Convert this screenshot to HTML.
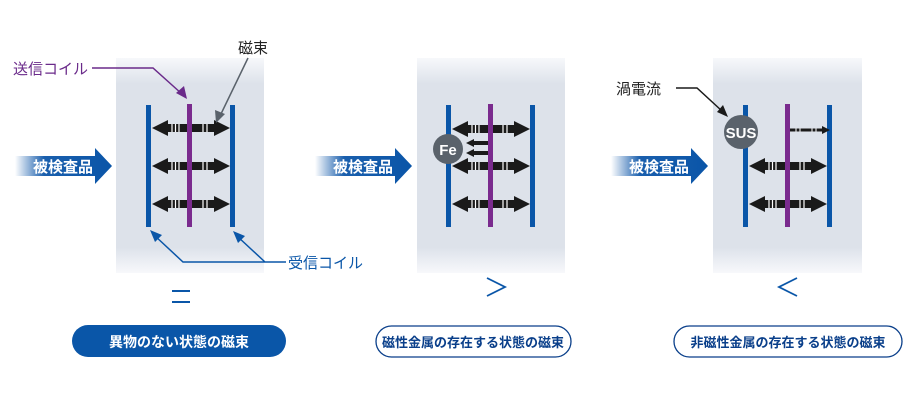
<!DOCTYPE html>
<html><head><meta charset="utf-8"><style>
body{margin:0;background:#fff;}
svg text{font-family:"Liberation Sans","Noto Sans CJK JP",sans-serif;}
</style></head><body>
<svg width="920" height="400" viewBox="0 0 920 400" xmlns="http://www.w3.org/2000/svg">
<defs>
<linearGradient id="pg" x1="0" y1="0" x2="0" y2="1">
<stop offset="0" stop-color="#f7f8fb"/><stop offset="0.12" stop-color="#dde2ea"/><stop offset="0.88" stop-color="#dde2ea"/><stop offset="1" stop-color="#f7f8fb"/>
</linearGradient>
<linearGradient id="fg" x1="0" y1="0" x2="1" y2="0">
<stop offset="0" stop-color="#1a5fad" stop-opacity="0"/><stop offset="0.3" stop-color="#1a5fad"/><stop offset="1" stop-color="#0a55a8"/>
</linearGradient>
<g id="feed">
<path d="M0,156 H80 V148 L97,166 L80,184 V176 H0 Z" fill="url(#fg)"/>
<text x="18" y="172" font-size="15" font-weight="bold" fill="#fff">被検査品</text>
</g>
<g id="darr">
<path d="M0,0 L16,-8 V-4 H62 V-8 L78,0 L62,8 V4 H16 V8 Z" fill="#1a1a1a"/>
<path d="M20,-4 v8 M23.5,-4 v8 M27,-4 v8 M51,-4 v8 M55,-4 v8" stroke="#fff" stroke-width="1.2"/>
</g>
</defs>

<rect x="116" y="58" width="148" height="215" fill="url(#pg)"/>
<rect x="417" y="58" width="148" height="215" fill="url(#pg)"/>
<rect x="713" y="58" width="149" height="215" fill="url(#pg)"/>

<use href="#feed" x="15"/>
<use href="#feed" x="315"/>
<use href="#feed" x="611"/>

<!-- panel 1 -->
<rect x="146" y="105" width="5" height="122" fill="#0a56a8"/>
<rect x="230" y="105" width="5" height="122" fill="#0a56a8"/>
<use href="#darr" x="152" y="128"/>
<use href="#darr" x="152" y="166"/>
<use href="#darr" x="152" y="204"/>
<rect x="187" y="104" width="5" height="123" fill="#7a2b8e"/>

<!-- panel 2 -->
<rect x="446" y="105" width="5" height="122" fill="#0a56a8"/>
<rect x="530" y="105" width="5" height="122" fill="#0a56a8"/>
<use href="#darr" x="452" y="129"/>
<use href="#darr" x="452" y="166"/>
<use href="#darr" x="452" y="204"/>
<path d="M466,143 L474,139 V141 H489 V145 H474 V147 Z M466,153 L474,149 V151 H489 V155 H474 V157 Z" fill="#1a1a1a"/>
<rect x="488" y="104" width="5" height="123" fill="#7a2b8e"/>
<circle cx="448" cy="149" r="15" fill="#5a626b"/>
<text x="448" y="155" font-size="15" font-weight="bold" fill="#fff" text-anchor="middle">Fe</text>

<!-- panel 3 -->
<rect x="743" y="105" width="5" height="122" fill="#0a56a8"/>
<rect x="827" y="105" width="5" height="122" fill="#0a56a8"/>
<use href="#darr" x="749" y="166"/>
<use href="#darr" x="749" y="204"/>
<path d="M790,128.5 H822 V126 L830,130 L822,134 V131.5 H790 Z" fill="#1a1a1a"/>
<path d="M796,128.5 v3 M800,128.5 v3 M812,128.5 v3 M816,128.5 v3" stroke="#fff" stroke-width="1"/>
<rect x="785" y="104" width="5" height="123" fill="#7a2b8e"/>
<circle cx="741" cy="132" r="17" fill="#5a626b"/>
<text x="741" y="138" font-size="15" font-weight="bold" fill="#fff" text-anchor="middle">SUS</text>

<!-- labels -->
<text x="13" y="74" font-size="15" fill="#6a2a8a">送信コイル</text>
<path d="M92,68 H153 L182,94" stroke="#6a2a8a" stroke-width="1.5" fill="none"/>
<path d="M187,99 L176,93 L184,86 Z" fill="#6a2a8a"/>
<text x="238" y="53" font-size="15" fill="#222">磁束</text>
<path d="M248,58 L220,116" stroke="#5a626b" stroke-width="1.5"/>
<path d="M216,123 L215,110 L225,114 Z" fill="#5a626b"/>
<text x="288" y="268" font-size="15" fill="#0a56a8">受信コイル</text>
<path d="M286,262 H183 L154,235 M265,262 L237,236" stroke="#0a56a8" stroke-width="1.5" fill="none"/>
<path d="M150,230 L162,235 L155,242 Z M233,231 L245,236 L238,243 Z" fill="#0a56a8"/>
<text x="616" y="94" font-size="15" fill="#222">渦電流</text>
<path d="M676,88 H697 L722,111" stroke="#1a1a1a" stroke-width="1.5" fill="none"/>
<path d="M728,117 L717,112 L723,105 Z" fill="#1a1a1a"/>

<!-- relation symbols -->
<path d="M172,291 H190 M172,302 H190" stroke="#0a56a8" stroke-width="2"/>
<path d="M487,278 L505,287 L487,296" stroke="#0a56a8" stroke-width="1.8" fill="none"/>
<path d="M797,278 L779,287 L797,296" stroke="#0a56a8" stroke-width="1.8" fill="none"/>

<!-- buttons -->
<rect x="72" y="325" width="214" height="32" rx="16" fill="#0a56a8"/>
<text x="179" y="347" font-size="14" font-weight="bold" fill="#fff" text-anchor="middle">異物のない状態の磁束</text>
<rect x="376" y="326" width="195" height="31" rx="15.5" fill="#fff" stroke="#0a3f8a" stroke-width="1.3"/>
<text x="473" y="347" font-size="13" font-weight="bold" fill="#0a3f8a" text-anchor="middle">磁性金属の存在する状態の磁束</text>
<rect x="674" y="326" width="228" height="31" rx="15.5" fill="#fff" stroke="#0a3f8a" stroke-width="1.3"/>
<text x="788" y="347" font-size="13" font-weight="bold" fill="#0a3f8a" text-anchor="middle">非磁性金属の存在する状態の磁束</text>
</svg>
</body></html>
